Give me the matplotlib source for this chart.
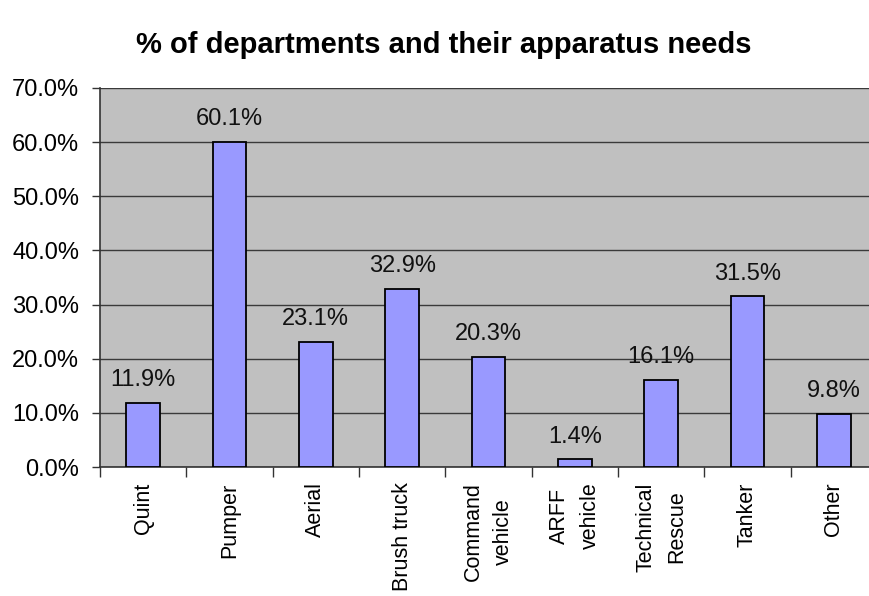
import matplotlib.pyplot as plt
import numpy as np

plt.rcParams['font.family'] = ['Liberation Sans', 'DejaVu Sans']

categories = ['Quint', 'Pumper', 'Aerial', 'Brush truck', 'Command\nvehicle',
              'ARFF\nvehicle', 'Technical\nRescue', 'Tanker', 'Other']
values = [11.9, 60.1, 23.1, 32.9, 20.3, 1.4, 16.1, 31.5, 9.8]
yticks = [0, 10, 20, 30, 40, 50, 60, 70]

fig = plt.figure(figsize=(8.69, 5.96), dpi=100)
ax = fig.add_axes([100 / 869, 1 - 467 / 596, 777 / 869, 379 / 596])
ax.set_facecolor('#C0C0C0')

x = np.arange(len(categories))
ax.bar(x, values, width=0.39, color='#9999FF', edgecolor='black',
       linewidth=1.3, zorder=3)
for xi, v in zip(x, values):
    ax.text(xi, v + 2.2, '%.1f%%' % v, ha='center', va='bottom', fontsize=17,
            color='#111111', zorder=4)

ax.set_xlim(-0.5, len(categories) - 0.5)
ax.set_ylim(0, 70)
ax.set_yticks(yticks)
ax.set_yticklabels(['%.1f%%' % t for t in yticks], fontsize=17)
ax.tick_params(axis='y', length=6, width=1.0, pad=9, color='#333333')

# category names in the middle, tick marks between the bars
ax.set_xticks(x)
ax.set_xticklabels(categories, rotation=90, fontsize=15.5, linespacing=1.6)
ax.set_xticks(np.arange(len(categories) + 1) - 0.5, minor=True)
ax.tick_params(axis='x', which='major', length=0, pad=11)
ax.tick_params(axis='x', which='minor', length=7, width=1.0, color='#333333')

ax.grid(axis='y', color='#3a3a3a', linewidth=1.0, zorder=0)
ax.set_axisbelow(True)
for side in ['top', 'right']:
    ax.spines[side].set_visible(False)
ax.spines['left'].set_color('#333333')
ax.spines['bottom'].set_color('#333333')
ax.spines['left'].set_linewidth(1.2)
ax.spines['bottom'].set_linewidth(1.2)

fig.text(444 / 869, 1 - 45 / 596, '% of departments and their apparatus needs',
         ha='center', va='center', fontsize=21, fontweight='bold')

fig.savefig('out.png', dpi=100)
